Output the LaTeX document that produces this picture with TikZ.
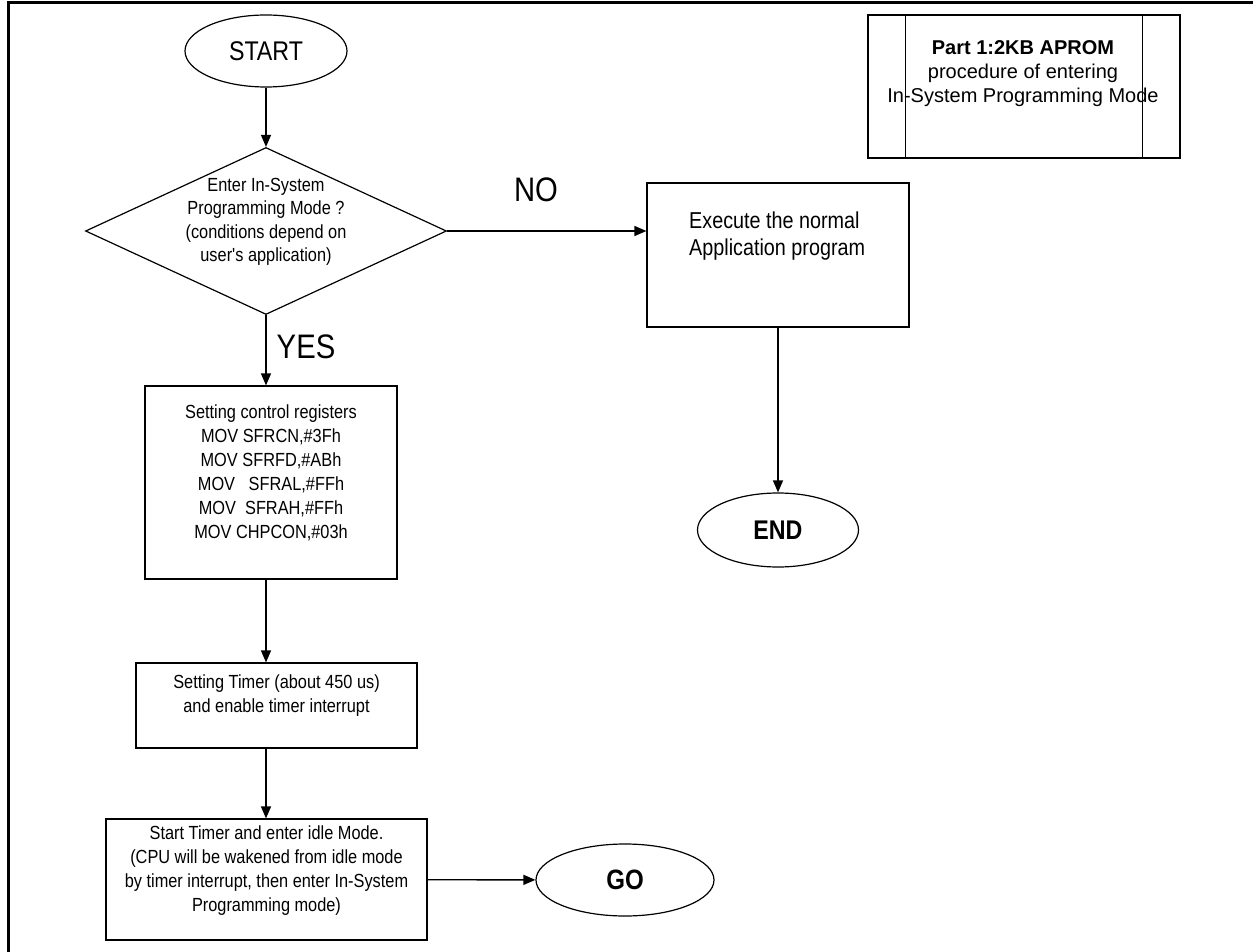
\documentclass[tikz,border=0pt]{standalone}
\usepackage{fontspec}
\setmainfont{Liberation Sans}
\newfontfamily\narrowsans[FakeStretch=0.86]{Liberation Sans}
\usetikzlibrary{shapes.geometric, arrows.meta, positioning}

\begin{document}
\begin{tikzpicture}[
    x=1pt, y=-1pt,
    terminal/.style={
        ellipse,
        draw=black,
        line width=1.2pt,
        minimum width=162pt,
        minimum height=72pt,
        inner sep=0pt
    },
    process/.style={draw=black, line width=1.2pt, inner sep=0pt},
    decision/.style={
        diamond,
        draw=black,
        line width=1.2pt,
        inner sep=0pt,
        minimum width=361pt,
        minimum height=167pt
    },
    txt/.style={font=\narrowsans\fontsize{19}{24}\selectfont, align=center, inner sep=0pt},
    answer/.style={font=\narrowsans\fontsize{34}{36}\selectfont, inner sep=0pt},
    flow/.style={line width=1.4pt, -{Triangle[length=12pt,width=10pt]}}
]
\useasboundingbox (0,0) rectangle (1253,952);

% frame
\draw[line width=3pt] (8,952) -- (8,3) -- (1253,3);

% start and question
\node[terminal, font=\narrowsans\fontsize{27}{30}\selectfont] (start) at (266,51) {START};
\node[decision] (isp) at (266,231) {};
\node[txt, font=\narrowsans\fontsize{19}{23.5}\selectfont] (isptext) at (266,222) {Enter In-System\\Programming Mode ?\\(conditions depend on\\user's application)};
\node[answer] (no) at (536,190) {NO};
\node[answer] (yes) at (306,347) {YES};

% NO branch
\node[process, minimum width=262pt, minimum height=144pt] (exec) at (778,255) {};
\node[txt, font=\narrowsans\fontsize{23}{27.5}\selectfont, align=left, anchor=west] (exectext) at (689,236) {Execute the normal\\Application program};
\node[terminal, minimum width=161pt, minimum height=74pt, font=\narrowsans\bfseries\fontsize{27}{30}\selectfont] (end) at (778,530) {END};

% YES branch
\node[process, minimum width=252pt, minimum height=193pt] (regs) at (271,482.5) {};
\node[txt] (regstext) at (271,473) {Setting control registers\\MOV SFRCN,\#3Fh\\MOV SFRFD,\#ABh\\MOV\ \ \ SFRAL,\#FFh\\MOV\ \ SFRAH,\#FFh\\MOV CHPCON,\#03h};
\node[process, minimum width=281pt, minimum height=85pt] (timer) at (276.5,705.5) {};
\node[txt] (timertext) at (276.5,696) {Setting Timer (about 450 us)\\and enable timer interrupt};
\node[process, minimum width=321pt, minimum height=121pt] (idle) at (266.5,879.5) {};
\node[txt] (idletext) at (266.5,871) {Start Timer and enter idle Mode.\\(CPU will be wakened from idle mode\\by timer interrupt, then enter In-System\\Programming mode)};
\node[terminal, minimum width=178pt, minimum height=72pt, font=\narrowsans\bfseries\fontsize{28}{30}\selectfont] (go) at (625,880) {GO};

% title box
\node[process, minimum width=312pt, minimum height=143pt] (part) at (1024,86.5) {};
\draw[line width=1pt] ([xshift=38pt]part.north west) -- ([xshift=38pt]part.south west);
\draw[line width=1pt] ([xshift=-38pt]part.north east) -- ([xshift=-38pt]part.south east);
\node[font=\fontsize{20}{24}\selectfont, align=center, inner sep=0pt] (parttext) at (1023,74) {\textbf{Part 1:2KB APROM}\\procedure of entering\\In-System Programming Mode};

% connectors
\draw[flow] (start) -- (isp);
\draw[flow] (isp.east) -- (isp.east -| exec.west);
\draw[flow] (exec) -- (end);
\draw[flow] (isp.south) -- (isp.south |- regs.north);
\draw[flow] (isp.south |- regs.south) -- (isp.south |- timer.north);
\draw[flow] (isp.south |- timer.south) -- (isp.south |- idle.north);
\draw[flow] (idle) -- (go);

\end{tikzpicture}
\end{document}
